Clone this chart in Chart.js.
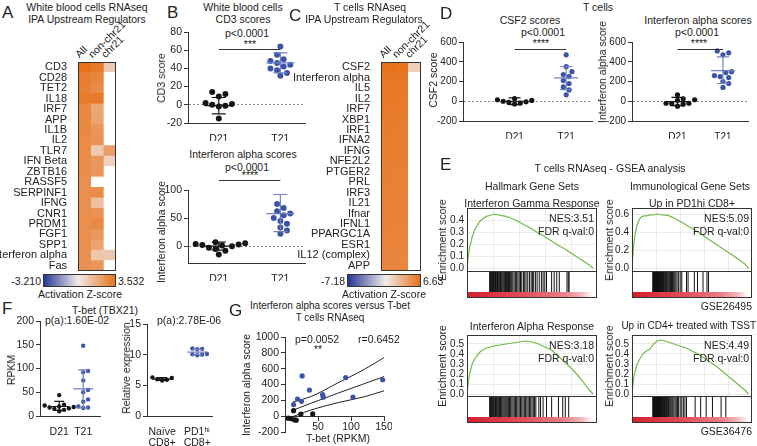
<!DOCTYPE html>
<html>
<head>
<meta charset="utf-8">
<script src="https://cdn.jsdelivr.net/npm/chart.js@4.4.1/dist/chart.umd.min.js"></script>
<style>
  body { margin: 0; background: #fff; }
  #fig { position: relative; width: 757px; height: 446px; overflow: hidden;
         font-family: "Liberation Sans", Arial, sans-serif; color: #222; }
  #fig canvas, #fig div { position: absolute; }
  .tx { white-space: nowrap; font-size: 10.5px; line-height: 12px; }
  .sm { font-size: 10px; }
  .lt { font-size: 17px; line-height: 18px; }
</style>
</head>
<body>
<div id="fig"></div>
<script>
/* A: white blood cells RNAseq, IPA upstream regulators (activation z-score) */
const a_rows = ['CD3', 'CD28', 'TET2', 'IL18', 'IRF7', 'APP', 'IL1B', 'IL2', 'TLR7', 'IFN Beta', 'ZBTB16',
  'RASSF5', 'SERPINF1', 'IFNG', 'CNR1', 'PRDM1', 'FGF1', 'SPP1', 'Interferon alpha', 'Fas'];
const a_cols = ['All', 'non-chr21', 'chr21'];
const a_all = [3.53, 3.2, 3.1, 3.3, 2.9, 2.9, 2.9, 2.8, 2.8, 2.8, 2.8, 2.7, 2.7, 2.7, 2.7, 2.7, 2.7, 2.7, 2.7, 2.7];
const a_non = [3.3, 3.0, 2.8, 3.3, 2.0, 2.1, 2.5, 2.6, 1.0, 2.5, 2.5, null, 2.8, 1.3, 2.6, 2.9, 2.5, 2.1, 1.1, 2.5];
const a_chr21 = [1.0, null, null, null, null, null, null, null, 2.3, 0.8, null, null, null, null, null, null, null, null, 1.0, null];
const a_range = [-3.21, 3.532];

/* C: T cells RNAseq, IPA upstream regulators */
const c_rows = ['CSF2', 'Interferon alpha', 'IL5', 'IL2', 'IRF7', 'XBP1', 'IRF1', 'IFNA2', 'IFNG', 'NFE2L2',
  'PTGER2', 'PRL', 'IRF3', 'IL21', 'Ifnar', 'IFNL1', 'PPARGC1A', 'ESR1', 'IL12 (complex)', 'APP'];
const c_cols = ['All', 'non-chr21', 'chr21'];
const c_all = [6.63, 6.4, 6.3, 6.25, 6.2, 6.1, 6.05, 6.0, 6.0, 5.95, 5.9, 5.9, 5.85, 5.8, 5.8, 5.75, 5.7, 5.7, 5.65, 5.6];
const c_non = [6.5, 6.35, 6.25, 6.2, 6.1, 6.05, 6.0, 5.95, 5.95, 5.9, 5.85, 5.85, 5.8, 5.75, 5.75, 5.7, 5.65, 5.65, 5.6, 5.55];
const c_chr21 = [1.6, null, null, null, null, null, null, null, null, null, null, null, null, null, null, null, null, null, null, null];
const c_range = [-7.18, 6.63];

/* B: white blood cells scores, bars = [mean, low, high] */
const b_groups = ['D21', 'T21'];
const b_cd3_d21 = [14, 12, 9, 2, 1, 0, -1, -2, -15];
const b_cd3_t21 = [64, 55, 50, 48, 46, 44, 42, 40, 38, 35, 32];
const b_cd3_bars = [[-1, -10, 8], [46, 35, 57]];
const b_cd3_ticks = [-20, 0, 20, 40, 60, 80];
const b_ifn_d21 = [7, 5, 4, 3, 2, 1, 0, -3, -5, -8, -15];
const b_ifn_t21 = [108, 75, 68, 62, 58, 55, 50, 45, 40, 33, 28, 22];
const b_ifn_bars = [[0, -7, 7], [58, 26, 92]];
const b_ifn_ticks = [0, 50, 100];

/* D: T cells scores */
const d_groups = ['D21', 'T21'];
const d_csf2_d21 = [28, 15, 8, 0, -5, -12, -18, -28];
const d_csf2_t21 = [470, 350, 300, 270, 250, 210, 180, 145, 115, 65];
const d_csf2_bars = [[0, -35, 35], [236, 117, 352]];
const d_ifn_d21 = [65, 25, 15, 10, -20, -25, -30, -50, -20];
const d_ifn_t21 = [510, 490, 470, 300, 290, 260, 250, 240, 200, 180, 140];
const d_ifn_bars = [[-3, -45, 40], [310, 180, 450]];
const d_ticks = [-200, 0, 200, 400, 600];

/* E: GSEA running enrichment scores, read at common rank fractions */
const e_rank = [0, 0.01, 0.02, 0.04, 0.06, 0.08, 0.1, 0.12, 0.15, 0.18, 0.21, 0.25, 0.3, 0.35, 0.4, 0.45, 0.5,
  0.55, 0.6, 0.65, 0.7, 0.75, 0.8, 0.85, 0.9, 0.94, 0.97];
const e_ifng = [0, 0.1, 0.17, 0.26, 0.32, 0.36, 0.39, 0.41, 0.43, 0.44, 0.45, 0.44, 0.43, 0.41, 0.385, 0.355, 0.325,
  0.29, 0.26, 0.225, 0.19, 0.16, 0.125, 0.09, 0.055, 0.025, 0];
const e_pd1 = [0, 0.2, 0.33, 0.47, 0.54, 0.57, 0.58, 0.58, 0.59, 0.59, 0.6, 0.59, 0.585, 0.555, 0.52, 0.48, 0.44,
  0.4, 0.355, 0.31, 0.265, 0.22, 0.175, 0.13, 0.085, 0.045, 0];
const e_ifna = [0, 0.12, 0.2, 0.3, 0.35, 0.39, 0.42, 0.44, 0.46, 0.47, 0.48, 0.49, 0.5, 0.51, 0.52, 0.53, 0.52,
  0.5, 0.47, 0.44, 0.38, 0.32, 0.26, 0.19, 0.11, 0.04, 0];
const e_tsst = [0, 0.12, 0.2, 0.29, 0.34, 0.38, 0.41, 0.43, 0.45, 0.5, 0.53, 0.54, 0.52, 0.5, 0.48, 0.46, 0.43,
  0.4, 0.36, 0.32, 0.28, 0.23, 0.18, 0.13, 0.08, 0.04, 0];
const e_ifng_ticks = [0, 0.1, 0.2, 0.3, 0.4];
const e_pd1_ticks = [0, 0.2, 0.4, 0.6];
const e_low_ticks = [0, 0.1, 0.2, 0.3, 0.4, 0.5];
const e_hits_ifng = [0.004, 0.01, 0.016, 0.022, 0.03, 0.036, 0.043, 0.05, 0.058, 0.066, 0.073, 0.08, 0.088, 0.096,
  0.104, 0.113, 0.122, 0.131, 0.14, 0.15, 0.16, 0.17, 0.18, 0.19, 0.2, 0.212, 0.224, 0.236, 0.25, 0.262, 0.275,
  0.29, 0.305, 0.32, 0.335, 0.35, 0.365, 0.38, 0.4, 0.415, 0.43, 0.45, 0.47, 0.49, 0.505, 0.52, 0.54, 0.56,
  0.585, 0.61, 0.63, 0.65, 0.67, 0.73, 0.76, 0.79, 0.82, 0.91, 0.925, 0.935];
const e_hits_pd1 = [0.002, 0.006, 0.01, 0.014, 0.018, 0.022, 0.026, 0.03, 0.034, 0.038, 0.042, 0.046, 0.05,
  0.054, 0.058, 0.062, 0.067, 0.072, 0.077, 0.082, 0.087, 0.092, 0.098, 0.104, 0.11, 0.117, 0.124, 0.131,
  0.139, 0.147, 0.156, 0.165, 0.174, 0.184, 0.194, 0.205, 0.216, 0.228, 0.24, 0.253, 0.267, 0.28, 0.295, 0.31,
  0.33, 0.35, 0.37, 0.43, 0.45, 0.53, 0.57, 0.64, 0.69, 0.71];
const e_hits_ifna = [0.004, 0.01, 0.017, 0.024, 0.031, 0.039, 0.047, 0.055, 0.064, 0.073, 0.082, 0.091, 0.1,
  0.11, 0.12, 0.13, 0.14, 0.15, 0.162, 0.174, 0.186, 0.198, 0.21, 0.223, 0.236, 0.25, 0.264, 0.278, 0.292,
  0.306, 0.32, 0.335, 0.35, 0.365, 0.38, 0.395, 0.41, 0.425, 0.44, 0.455, 0.47, 0.485, 0.5, 0.515, 0.53,
  0.545, 0.58, 0.6, 0.63, 0.67, 0.73, 0.81, 0.86, 0.89, 0.93];
const e_hits_tsst = [0.002, 0.006, 0.01, 0.014, 0.018, 0.022, 0.026, 0.03, 0.034, 0.038, 0.042, 0.046, 0.05,
  0.054, 0.058, 0.062, 0.066, 0.07, 0.074, 0.078, 0.082, 0.086, 0.09, 0.094, 0.098, 0.105, 0.11, 0.116, 0.122,
  0.128, 0.135, 0.142, 0.15, 0.158, 0.166, 0.175, 0.184, 0.193, 0.2, 0.21, 0.22, 0.232, 0.244, 0.256, 0.27,
  0.285, 0.3, 0.315, 0.33, 0.35, 0.37, 0.39, 0.41, 0.43, 0.54, 0.61, 0.68, 0.76, 0.87, 0.93];

/* F: T-bet (TBX21) */
const f_groups = ['D21', 'T21'];
const f_d21 = [44, 24, 22, 20, 19, 18, 16, 15, 13, 10];
const f_t21 = [148, 95, 92, 75, 55, 50, 35, 30, 20, 18, 17];
const f_rpkm_bars = [[20, 12, 31], [57, 17, 97]];
const f_rpkm_ticks = [0, 50, 100, 150, 200];
const f_cells = [['Naïve', 'CD8+'], ['PD1ʰⁱ', 'CD8+']];
const f_naive = [5.8, 5.9, 6.0, 6.2, 6.3];
const f_pd1 = [9.9, 10.0, 10.05, 10.1, 10.9, 10.95, 11.0];
const f_rel_bars = [[6.0, 5.8, 6.25], [10.4, 9.95, 10.9]];
const f_rel_ticks = [0, 5, 10, 15];

/* G: interferon alpha score vs T-bet RPKM */
const g_t21_x = [13, 19, 25, 26, 37, 57, 58, 92, 103, 148];
const g_t21_y = [146, 217, 187, 508, 329, 271, 240, 488, 242, 460];
const g_d21_x = [5, 9, 13, 14, 17, 24, 42];
const g_d21_y = [-25, -30, 70, -45, -50, 25, 28];
const g_fit_x = [12, 40, 80, 120, 150];
const g_fit_mid = [75, 165, 290, 410, 500];
const g_fit_hi = [180, 250, 420, 590, 740];
const g_fit_lo = [-5, 80, 170, 245, 320];
const g_x_ticks = [50, 100, 150];
const g_y_ticks = [-200, 0, 200, 400, 600, 800, 1000];

/* style */
const BLUE = '#3c54a6';
const BLUE_BAR = '#6f81c4';
const BLACK = '#151515';
const GREEN = '#72bb48';
const HEAT_NEG = [40, 55, 145];
const HEAT_MID = [240, 236, 236];
const HEAT_POS = [232, 114, 28];

Chart.defaults.font.family = '"Liberation Sans", Arial, sans-serif';
Chart.defaults.font.size = 10.5;
Chart.defaults.color = '#222';
Chart.defaults.plugins.legend.display = false;
Chart.defaults.plugins.tooltip.enabled = false;

const fig = document.getElementById('fig');

const label = (s, x, y, align = 'c', cls = 'tx') => {
  const d = document.createElement('div');
  d.className = cls;
  d.textContent = s;
  d.style.left = x + 'px';
  d.style.top = y + 'px';
  const tx = align === 'c' ? '-50%' : align === 'r' ? '-100%' : '0';
  d.style.transform = `translate(${tx}, -50%)`;
  fig.appendChild(d);
};

// rotated axis title centred on (x, y)
const vtitle = (s, x, y) => {
  const d = document.createElement('div');
  d.className = 'tx';
  d.textContent = s;
  d.style.left = x + 'px';
  d.style.top = y + 'px';
  d.style.transform = 'translate(-50%, -50%) rotate(-90deg)';
  fig.appendChild(d);
};

const header = (s, x, y) => {
  const d = document.createElement('div');
  d.className = 'tx';
  d.textContent = s;
  d.style.left = x + 'px';
  d.style.top = (y - 12) + 'px';
  d.style.transformOrigin = '0 100%';
  d.style.transform = 'rotate(-45deg)';
  fig.appendChild(d);
};

const rect = (x, y, w, h, css) => {
  const d = document.createElement('div');
  d.style.cssText = `left:${x}px;top:${y}px;width:${w}px;height:${h}px;box-sizing:border-box;${css}`;
  fig.appendChild(d);
};

// canvas whose chart area lands on area = [x0, y0, x1, y1]
const place = (area, pad) => {
  const c = document.createElement('canvas');
  const w = area[2] - area[0] + pad.l + pad.r;
  const h = area[3] - area[1] + pad.t + pad.b;
  c.width = w;
  c.height = h;
  c.style.cssText = `left:${area[0] - pad.l}px;top:${area[1] - pad.t}px;width:${w}px;height:${h}px`;
  fig.appendChild(c);
  return c;
};

const frame = (pad, xh) => ({
  responsive: false,
  animation: false,
  layout: {padding: {left: 0, top: pad.t, right: pad.r, bottom: pad.b - xh}, autoPadding: false}
});
const fixW = w => a => { a.width = w; a.paddingLeft = a.paddingRight = a.paddingTop = a.paddingBottom = 0; };
const fixH = h => a => { a.height = h; a.paddingLeft = a.paddingRight = a.paddingTop = a.paddingBottom = 0; };
const useTicks = list => a => { a.ticks = list.map(v => ({value: v})); };

const mix = (a, b, t) => a.map((v, i) => Math.round(v + (b[i] - v) * t));
const heat = (v, lo, hi) => {
  if (v === null) return '#ffffff';
  const c = v >= 0 ? mix(HEAT_MID, HEAT_POS, v / hi) : mix(HEAT_MID, HEAT_NEG, v / lo);
  return `rgb(${c.join(',')})`;
};

const boxPlugin = {
  id: 'box',
  afterDatasetsDraw(chart, args, opts) {
    if (!opts.on) return;
    const {ctx, chartArea: a} = chart;
    ctx.save();
    ctx.strokeStyle = '#333';
    ctx.lineWidth = 1;
    ctx.strokeRect(Math.round(a.left) + 0.5, Math.round(a.top) + 0.5,
      Math.round(a.right - a.left) - 1, Math.round(a.bottom - a.top) - 1);
    ctx.restore();
  }
};

const barsPlugin = {
  id: 'errbars',
  afterDatasetsDraw(chart, args, opts) {
    if (!opts.items) return;
    const {ctx, scales: {x, y}} = chart;
    ctx.save();
    ctx.lineWidth = 1.2;
    for (const it of opts.items) {
      const cx = x.getPixelForValue(it.at);
      const [m, lo, hi] = it.stat.map(v => y.getPixelForValue(v));
      ctx.strokeStyle = it.color;
      ctx.beginPath();
      ctx.moveTo(cx - opts.mean, m); ctx.lineTo(cx + opts.mean, m);
      ctx.moveTo(cx, lo); ctx.lineTo(cx, hi);
      ctx.moveTo(cx - opts.cap, lo); ctx.lineTo(cx + opts.cap, lo);
      ctx.moveTo(cx - opts.cap, hi); ctx.lineTo(cx + opts.cap, hi);
      ctx.stroke();
    }
    if (opts.bracket !== undefined) {
      const by = Math.round(y.getPixelForValue(opts.bracket)) + 0.5;
      ctx.strokeStyle = '#333';
      ctx.lineWidth = 1;
      ctx.beginPath();
      ctx.moveTo(x.getPixelForValue(1), by);
      ctx.lineTo(x.getPixelForValue(2), by);
      ctx.stroke();
    }
    ctx.restore();
  }
};
Chart.register(boxPlugin, barsPlugin);

// spread points sideways so dots of radius r do not overlap
const swarm = (vals, pxY, r) => {
  const order = vals.map((v, i) => i).sort((a, b) => vals[a] - vals[b]);
  const placed = [];
  const offs = [];
  for (const i of order) {
    const py = vals[i] * pxY;
    for (let k = 0; k < 40; k++) {
      const dx = (k % 2 ? 1 : -1) * Math.ceil(k / 2) * r * 1.1;
      if (placed.every(p => Math.hypot(p[0] - dx, p[1] - py) >= 2 * r)) {
        placed.push([dx, py]);
        offs[i] = dx;
        break;
      }
    }
  }
  return offs;
};

const heatmap = (area, padL, rows, cols, z, range) => {
  const cv = place(area, {l: padL, t: 0, r: 0, b: 0});
  new Chart(cv, {
    type: 'bar',
    data: {
      labels: rows,
      datasets: cols.map((c, j) => ({
        label: c,
        data: rows.map(() => 1),
        backgroundColor: z[j].map(v => heat(v, range[0], range[1])),
        categoryPercentage: 1, barPercentage: 1, borderWidth: 0
      }))
    },
    options: {
      ...frame({t: 0, r: 0, b: 0}, 0),
      indexAxis: 'y',
      scales: {
        x: {stacked: true, min: 0, max: cols.length, display: false},
        y: {stacked: true, afterFit: fixW(padL), grid: {display: false}, border: {display: false},
            ticks: {padding: 3, autoSkip: false, font: {size: 11}}}
      },
      plugins: {box: {on: true}}
    }
  });
  const w = (area[2] - area[0]) / cols.length;
  cols.forEach((c, j) => header(c, area[0] + w * (j + 0.5) - 3, area[1] - 2));
};

const colorbar = (x0, x1, y0, y1, range) => {
  const z = (-range[0] / (range[1] - range[0]) * 100).toFixed(1);
  rect(x0, y0, x1 - x0, y1 - y0, `border:1px solid #333;background:linear-gradient(90deg, rgb(${HEAT_NEG}) 0%, rgb(${HEAT_MID}) ${z}%, rgb(${HEAT_POS}) 100%)`);
};

const dotPlot = (area, pad, o) => {
  const cv = place(area, pad);
  const pxY = (area[3] - area[1]) / (o.y[1] - o.y[0]);
  const pxX = (area[2] - area[0]) / (o.x[1] - o.x[0]);
  const datasets = o.groups.map((g, i) => {
    const offs = swarm(g.vals, pxY, o.r);
    return {
      data: g.vals.map((v, k) => ({x: i + 1 + offs[k] / pxX, y: v})),
      backgroundColor: g.color, borderWidth: 0, pointRadius: o.r, clip: false
    };
  });
  new Chart(cv, {
    type: 'scatter',
    data: {datasets},
    options: {
      ...frame(pad, pad.b),
      scales: {
        x: {min: o.x[0], max: o.x[1], afterFit: fixH(pad.b),
            afterBuildTicks: a => { a.ticks = o.names.map((n, i) => ({value: i + 1})); },
            ticks: {callback: (v, i) => o.names[i], padding: 3, maxRotation: 0, autoSkip: false,
                    font: {size: o.font, lineHeight: 1.05}},
            grid: {display: false}, border: {color: '#333'}},
        y: {min: o.y[0], max: o.y[1], afterFit: fixW(pad.l), afterBuildTicks: useTicks(o.ticks),
            ticks: {padding: 2, autoSkip: false, font: {size: o.font}, callback: v => String(v)},
            grid: {drawOnChartArea: !!o.zero, tickLength: 4, tickColor: '#333',
                   color: c => (o.zero && c.tick && c.tick.value === 0) ? '#8a8a8a' : 'rgba(0,0,0,0)'},
            border: {color: '#333', dash: [2, 2]}}
      },
      plugins: {errbars: {items: o.groups.map((g, i) => ({at: i + 1, stat: g.bars, color: g.barColor})),
                          mean: o.mean, cap: o.cap, bracket: o.bracket}}
    }
  });
};

const gsea = p => {
  const cv = place([p.x0, p.top, p.x1, p.split], {l: p.padl, t: 0, r: 0, b: 0});
  new Chart(cv, {
    type: 'line',
    data: {datasets: [{data: e_rank.map((r, i) => ({x: r, y: p.es[i]})), borderColor: GREEN,
                       borderWidth: 1.2, pointRadius: 0, tension: 0}]},
    options: {
      ...frame({t: 0, r: 0, b: 0}, 0),
      scales: {
        x: {type: 'linear', min: 0, max: 1, afterFit: fixH(0), ticks: {display: false, stepSize: 0.2},
            grid: {color: '#ebebeb', drawTicks: false}, border: {display: false}},
        y: {min: p.yr[0], max: p.yr[1], afterFit: fixW(p.padl), afterBuildTicks: useTicks(p.ticks),
            ticks: {padding: 3, autoSkip: false, font: {size: 10, lineHeight: 1}, callback: v => v.toFixed(1)},
            grid: {color: '#ebebeb', drawTicks: false}, border: {display: false}}
      },
      plugins: {box: {on: true}}
    }
  });
  const hv = place([p.x0 + 1, p.split, p.x1 - 1, p.red], {l: 0, t: 0, r: 0, b: 0});
  new Chart(hv, {
    type: 'bar',
    data: {datasets: [{data: p.hits.map(h => ({x: h, y: 1})), backgroundColor: '#111',
                       barThickness: 1, inflateAmount: 0}]},
    options: {
      ...frame({t: 0, r: 0, b: 0}, 0),
      scales: {x: {type: 'linear', min: 0, max: 1, display: false}, y: {min: 0, max: 1, display: false}}
    }
  });
  rect(p.x0 + 1, p.red, p.x1 - p.x0 - 2, p.bottom - p.red - 1,
    'background:linear-gradient(90deg,#d4202c 0%,#e2505b 45%,#ec7f88 75%,#f3b3ba 88%,#fbe3e6 94%,#ffffff 98%)');
  rect(p.x0, p.split, p.x1 - p.x0, p.bottom - p.split, 'border:1px solid #333;border-top:none');
  vtitle('Enrichment score', p.x0 - p.padl + 6, (p.top + p.split) / 2);
  label(p.nes, p.x1 - 3, p.top + 10, 'r');
  label('FDR q-val:0', p.x1 - 3, p.top + 23, 'r');
};

/* ---------- A ---------- */
label('A', 2, 13, 'l', 'tx lt');
label('White blood cells RNAseq', 87, 7);
label('IPA Upstream Regulators', 87, 19);
heatmap([78, 62, 116, 271], 78, a_rows, a_cols, [a_all, a_non, a_chr21], a_range);
colorbar(43, 116, 274, 287, a_range);
label('-3.210', 41, 281, 'r');
label('3.532', 118, 281, 'l');
label('Activation Z-score', 80, 294);

/* ---------- B ---------- */
label('B', 167, 13, 'l', 'tx lt');
label('White blood cells', 243, 7);
label('CD3 scores', 243, 19);
label('p<0.0001', 247, 33);
label('***', 250, 44);
dotPlot([188, 32, 305, 123], {l: 32, t: 20, r: 4, b: 18}, {
  x: [0.5, 2.4], y: [-20, 80], ticks: b_cd3_ticks, names: b_groups, r: 3, font: 10.5,
  zero: true, mean: 14, cap: 7, bracket: 61,
  groups: [{vals: b_cd3_d21, color: BLACK, bars: b_cd3_bars[0], barColor: BLACK},
           {vals: b_cd3_t21, color: BLUE, bars: b_cd3_bars[1], barColor: BLUE_BAR}]
});
vtitle('CD3 score', 161, 78);
label('Interferon alpha scores', 243, 154);
label('p<0.0001', 247, 167);
label('****', 250, 175);
dotPlot([188, 190, 305, 263], {l: 32, t: 14, r: 4, b: 18}, {
  x: [0.5, 2.4], y: [-30, 100], ticks: b_ifn_ticks, names: b_groups, r: 3, font: 10.5,
  zero: true, mean: 14, cap: 7, bracket: 118,
  groups: [{vals: b_ifn_d21, color: BLACK, bars: b_ifn_bars[0], barColor: BLACK},
           {vals: b_ifn_t21, color: BLUE, bars: b_ifn_bars[1], barColor: BLUE_BAR}]
});
vtitle('Interferon alpha score', 161, 232);

/* ---------- C ---------- */
label('C', 289, 16, 'l', 'tx lt');
label('T cells RNAseq', 370, 7);
label('IPA Upstream Regulators', 364, 19);
heatmap([381, 62, 421, 271], 92, c_rows, c_cols, [c_all, c_non, c_chr21], c_range);
colorbar(347, 421, 274, 287, c_range);
label('-7.18', 345, 281, 'r');
label('6.63', 423, 281, 'l');
label('Activation Z-score', 384, 294);

/* ---------- D ---------- */
label('D', 440, 14, 'l', 'tx lt');
label('T cells', 598, 7);
label('CSF2 scores', 530, 20);
label('p<0.0001', 543, 32);
label('****', 541, 43);
dotPlot([463, 42, 592, 121], {l: 30, t: 12, r: 2, b: 18}, {
  x: [0, 2.5], y: [-200, 600], ticks: d_ticks, names: d_groups, r: 2.6, font: 10,
  zero: true, mean: 12, cap: 6, bracket: 529,
  groups: [{vals: d_csf2_d21, color: BLACK, bars: d_csf2_bars[0], barColor: BLACK},
           {vals: d_csf2_t21, color: BLUE, bars: d_csf2_bars[1], barColor: BLUE_BAR}]
});
vtitle('CSF2 score', 433, 80);
label('Interferon alpha scores', 698, 20);
label('p<0.0001', 697, 32);
label('****', 699, 43);
dotPlot([632, 42, 748, 121], {l: 26, t: 12, r: 6, b: 18}, {
  x: [0, 2.55], y: [-200, 600], ticks: d_ticks, names: d_groups, r: 2.6, font: 10,
  zero: true, mean: 12, cap: 6, bracket: 529,
  groups: [{vals: d_ifn_d21, color: BLACK, bars: d_ifn_bars[0], barColor: BLACK},
           {vals: d_ifn_t21, color: BLUE, bars: d_ifn_bars[1], barColor: BLUE_BAR}]
});
vtitle('Interferon alpha score', 602, 72);

/* ---------- E ---------- */
label('E', 440, 165, 'l', 'tx lt');
label('T cells RNAseq - GSEA analysis', 610, 168);
label('Hallmark Gene Sets', 532, 186);
label('Immunological Gene Sets', 690, 186);
label('Interferon Gamma Response', 532, 203);
label('Up in PD1hi CD8+', 692, 203);
gsea({x0: 467, x1: 597, top: 208, split: 272, red: 292, bottom: 298, padl: 31,
      yr: [-0.033, 0.5], ticks: e_ifng_ticks, es: e_ifng, hits: e_hits_ifng, nes: 'NES:3.51'});
gsea({x0: 632, x1: 752, top: 208, split: 272, red: 292, bottom: 298, padl: 29,
      yr: [-0.044, 0.667], ticks: e_pd1_ticks, es: e_pd1, hits: e_hits_pd1, nes: 'NES:5.09'});
label('GSE26495', 752, 306, 'r');
label('Interferon Alpha Response', 532, 326);
label('Up in CD4+ treated with TSST', 756, 326, 'r', 'tx sm');
gsea({x0: 467, x1: 597, top: 335, split: 397, red: 417, bottom: 423, padl: 31,
      yr: [-0.03, 0.59], ticks: e_low_ticks, es: e_ifna, hits: e_hits_ifna, nes: 'NES:3.18'});
gsea({x0: 632, x1: 752, top: 335, split: 397, red: 417, bottom: 423, padl: 29,
      yr: [-0.03, 0.59], ticks: e_low_ticks, es: e_tsst, hits: e_hits_tsst, nes: 'NES:4.49'});
label('GSE36476', 752, 431, 'r');

/* ---------- F ---------- */
label('F', 2, 309, 'l', 'tx lt');
label('T-bet (TBX21)', 105, 310);
label('p(a):1.60E-02', 45, 320, 'l');
label('p(a):2.78E-06', 157, 320, 'l');
dotPlot([40, 321, 100, 416], {l: 30, t: 16, r: 4, b: 30}, {
  x: [0.2, 2.7], y: [0, 200], ticks: f_rpkm_ticks, names: f_groups, r: 2.2, font: 10.5,
  zero: false, mean: 10, cap: 5,
  groups: [{vals: f_d21, color: BLACK, bars: f_rpkm_bars[0], barColor: BLACK},
           {vals: f_t21, color: BLUE, bars: f_rpkm_bars[1], barColor: BLUE_BAR}]
});
vtitle('RPKM', 11, 370);
dotPlot([147, 324, 212, 416], {l: 20, t: 10, r: 4, b: 30}, {
  x: [0.57, 2.42], y: [0, 15], ticks: f_rel_ticks, names: f_cells, r: 2.2, font: 10.5,
  zero: false, mean: 10, cap: 5,
  groups: [{vals: f_naive, color: BLACK, bars: f_rel_bars[0], barColor: BLACK},
           {vals: f_pd1, color: BLUE, bars: f_rel_bars[1], barColor: BLUE_BAR}]
});
vtitle('Relative expression', 126, 368);

/* ---------- G ---------- */
label('G', 229, 311, 'l', 'tx lt');
label('Interferon alpha scores versus T-bet', 330, 306, 'c', 'tx sm');
label('T cells RNAseq', 330, 318, 'c', 'tx sm');
label('p=0.0052', 295, 339, 'l');
label('**', 318, 349);
label('r=0.6452', 358, 339, 'l');
const pts = (xs, ys) => xs.map((x, i) => ({x, y: ys[i]}));
const gpad = {l: 32, t: 8, r: 8, b: 4};
new Chart(place([285, 337, 384, 432], gpad), {
  type: 'scatter',
  data: {datasets: [
    {data: pts(g_t21_x, g_t21_y), backgroundColor: BLUE, borderWidth: 0, pointRadius: 2.6, clip: false},
    {data: pts(g_d21_x, g_d21_y), backgroundColor: BLACK, borderWidth: 0, pointRadius: 2.6, clip: false},
    {type: 'line', data: pts(g_fit_x, g_fit_hi), borderColor: '#222', borderWidth: 1, pointRadius: 0, cubicInterpolationMode: 'monotone'},
    {type: 'line', data: pts(g_fit_x, g_fit_mid), borderColor: '#222', borderWidth: 1, pointRadius: 0, tension: 0},
    {type: 'line', data: pts(g_fit_x, g_fit_lo), borderColor: '#222', borderWidth: 1, pointRadius: 0, cubicInterpolationMode: 'monotone'}
  ]},
  options: {
    ...frame(gpad, 0),
    scales: {
      x: {min: 0, max: 150, position: {y: 0}, afterFit: fixH(0), afterBuildTicks: useTicks(g_x_ticks),
          ticks: {padding: 1, autoSkip: false, callback: v => String(v)},
          grid: {drawOnChartArea: false, tickLength: 4, tickColor: '#333'}, border: {color: '#333'}},
      y: {min: -200, max: 1000, afterFit: fixW(gpad.l), afterBuildTicks: useTicks(g_y_ticks),
          ticks: {padding: 2, autoSkip: false, callback: v => String(v)},
          grid: {drawOnChartArea: false, tickLength: 4, tickColor: '#333'}, border: {color: '#333'}}
    }
  }
});
vtitle('Interferon alpha score', 246, 385);
label('T-bet (RPKM)', 338, 438);
</script>
</body>
</html>
